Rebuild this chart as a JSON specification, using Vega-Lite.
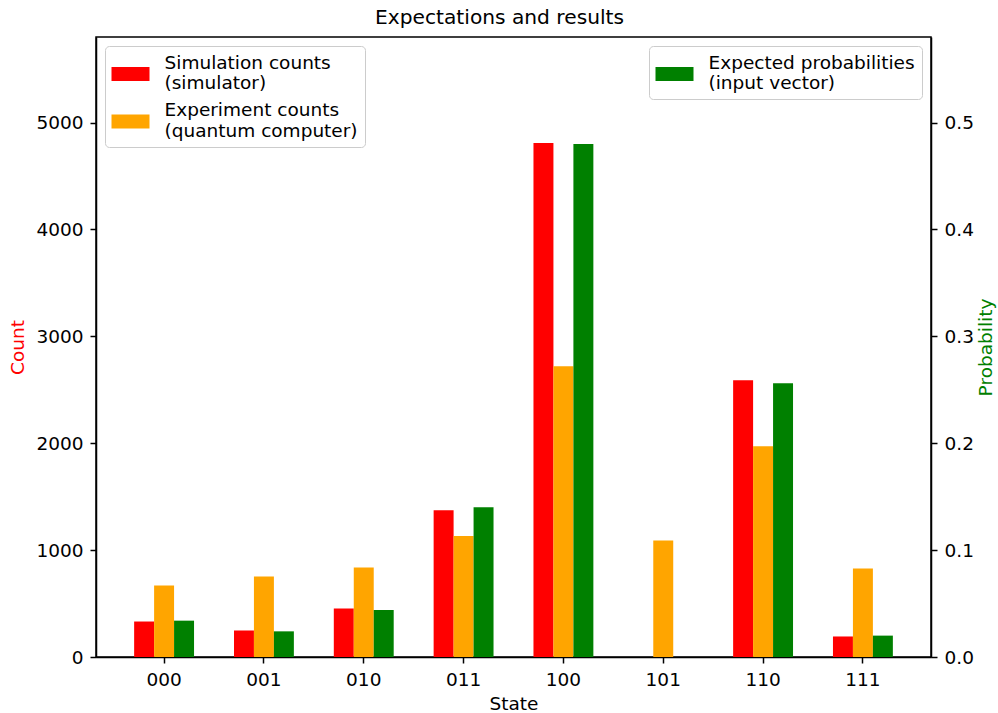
{
  "$schema": "https://vega.github.io/schema/vega-lite/v6.json",
  "width": 835,
  "height": 620,
  "autosize": {"type": "none"},
  "padding": {"left": 96, "top": 37, "right": 67, "bottom": 56},
  "background": "white",
  "config": {
    "font": "DejaVu Sans",
    "view": {"stroke": "black", "strokeWidth": 1.5},
    "axis": {
      "grid": false,
      "domainColor": "black",
      "domainWidth": 1.5,
      "tickColor": "black",
      "tickWidth": 1.5,
      "tickSize": 6,
      "labelPadding": 7,
      "labelFontSize": 18.5,
      "labelColor": "black",
      "labelFont": "DejaVu Sans",
      "titleFont": "DejaVu Sans",
      "titleFontSize": 18.5,
      "titleFontWeight": "normal",
      "titleColor": "black"
    },
    "legend": {
      "title": null,
      "labelFont": "DejaVu Sans",
      "labelFontSize": 18.5,
      "labelColor": "black",
      "labelLimit": 500,
      "labelOffset": 33,
      "symbolType": "M-1,0.45H2.8V1.85H-1Z",
      "symbolSize": 400,
      "symbolStrokeWidth": 0,
      "symbolOpacity": 1,
      "fillColor": "white",
      "strokeColor": "#cccccc",
      "cornerRadius": 4,
      "padding": 6.5,
      "rowPadding": 7.5,
      "offset": 9
    },
    "title": {"font": "DejaVu Sans", "fontSize": 20.2, "fontWeight": "normal", "color": "black"}
  },
  "title": {"text": "Expectations and results", "anchor": "middle", "frame": "group", "offset": 9, "dx": -14},
  "data": {
    "values": [
      {"state": "000", "series": "sim", "value": 332},
      {"state": "000", "series": "exp", "value": 669},
      {"state": "000", "series": "prob", "value": 0.034},
      {"state": "001", "series": "sim", "value": 248},
      {"state": "001", "series": "exp", "value": 754},
      {"state": "001", "series": "prob", "value": 0.024},
      {"state": "010", "series": "sim", "value": 454},
      {"state": "010", "series": "exp", "value": 838},
      {"state": "010", "series": "prob", "value": 0.044},
      {"state": "011", "series": "sim", "value": 1372},
      {"state": "011", "series": "exp", "value": 1131},
      {"state": "011", "series": "prob", "value": 0.140},
      {"state": "100", "series": "sim", "value": 4808},
      {"state": "100", "series": "exp", "value": 2720},
      {"state": "100", "series": "prob", "value": 0.480},
      {"state": "101", "series": "sim", "value": 0},
      {"state": "101", "series": "exp", "value": 1091},
      {"state": "101", "series": "prob", "value": 0},
      {"state": "110", "series": "sim", "value": 2589},
      {"state": "110", "series": "exp", "value": 1971},
      {"state": "110", "series": "prob", "value": 0.256},
      {"state": "111", "series": "sim", "value": 192},
      {"state": "111", "series": "exp", "value": 829},
      {"state": "111", "series": "prob", "value": 0.020}
    ]
  },
  "encoding": {
    "x": {
      "field": "state",
      "type": "nominal",
      "title": "State",
      "scale": {"paddingInner": 0.4, "paddingOuter": 0.382},
      "axis": {"labelAngle": 0, "titlePadding": 6}
    },
    "xOffset": {
      "field": "series",
      "type": "nominal",
      "scale": {"domain": ["sim", "exp", "prob"], "paddingInner": 0, "paddingOuter": 0}
    }
  },
  "layer": [
    {
      "transform": [{"filter": "datum.series !== 'prob'"}],
      "mark": {"type": "bar", "stroke": null},
      "encoding": {
        "y": {
          "field": "value",
          "type": "quantitative",
          "title": "Count",
          "scale": {"domain": [0, 5800], "nice": false},
          "axis": {"orient": "left", "values": [0, 1000, 2000, 3000, 4000, 5000], "format": "d", "titleColor": "#ff0000", "titlePadding": 8}
        },
        "color": {
          "field": "series",
          "type": "nominal",
          "scale": {"domain": ["sim", "exp"], "range": ["#ff0000", "#ffa500"]},
          "legend": {
            "orient": "top-left",
            "labelExpr": "datum.value == 'sim' ? ['Simulation counts', '(simulator)'] : ['Experiment counts', '(quantum computer)']"
          }
        }
      }
    },
    {
      "transform": [{"filter": "datum.series === 'prob'"}],
      "mark": {"type": "bar", "stroke": null},
      "encoding": {
        "y": {
          "field": "value",
          "type": "quantitative",
          "title": "Probability",
          "scale": {"domain": [0, 0.58], "nice": false},
          "axis": {"orient": "right", "values": [0, 0.1, 0.2, 0.3, 0.4, 0.5], "format": ".1f", "titleColor": "#008000", "titleAngle": 270, "titleBaseline": "top", "titlePadding": 3}
        },
        "color": {
          "field": "series",
          "type": "nominal",
          "scale": {"domain": ["prob"], "range": ["#008000"]},
          "legend": {
            "orient": "top-right",
            "labelExpr": "['Expected probabilities', '(input vector)']"
          }
        }
      }
    }
  ],
  "resolve": {"scale": {"y": "independent", "color": "independent"}, "axis": {"y": "independent"}, "legend": {"color": "independent"}}
}
